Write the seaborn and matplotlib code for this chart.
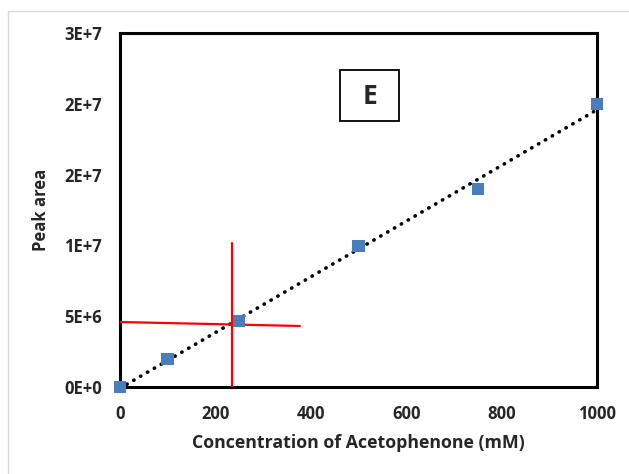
import numpy as np
import pandas as pd
import matplotlib.pyplot as plt
import matplotlib.patches as patches
import seaborn as sns

# Data
conc = [0, 100, 250, 500, 750, 1000]
peak_area = [0.0, 1.98e6, 4.66e6, 9.96e6, 1.40e7, 2.00e7]

y_ticks = [0, 5e6, 1e7, 1.5e7, 2e7, 2.5e7]
y_tick_labels = ['0E+0', '5E+6', '1E+7', '2E+7', '2E+7', '3E+7']
x_ticks = [0, 200, 400, 600, 800, 1000]

# red guide lines (read-off of the unknown sample)
vline_x = [235, 235]
vline_y = [0, 1.02e7]
hline_x = [0, 377]
hline_y = [4.59e6, 4.31e6]

panel_label = 'E'

df = pd.DataFrame({'conc': conc, 'area': peak_area})

sns.set_style("white")
plt.rcParams['font.family'] = ['Open Sans', 'DejaVu Sans']

fig = plt.figure(figsize=(6.29, 4.74), dpi=100)
ax = fig.add_axes([120 / 629, 1 - 387 / 474, 477 / 629, 354 / 474])

# light grey outer frame (only top and left visible)
fig.add_artist(plt.Line2D([8 / 629, 1], [1 - 11 / 474, 1 - 11 / 474],
                          transform=fig.transFigure, color='#d9d9d9', lw=1))
fig.add_artist(plt.Line2D([8 / 629, 8 / 629], [0, 1 - 11 / 474],
                          transform=fig.transFigure, color='#d9d9d9', lw=1))

# trendline
sns.regplot(data=df, x='conc', y='area', ax=ax, scatter=False, ci=None,
            color='black',
            line_kws={'linestyle': (0, (0.1, 2.1)), 'linewidth': 2.6,
                      'dash_capstyle': 'round', 'zorder': 2})

# guide lines
ax.plot(vline_x, vline_y, color='#ff0000', lw=1.6, zorder=3)
ax.plot(hline_x, hline_y, color='#ff0000', lw=1.6, zorder=3)

# data points
sns.scatterplot(data=df, x='conc', y='area', ax=ax, marker='s', s=80,
                color='#4a7ebb', edgecolor='none', zorder=4, clip_on=False)

ax.set_xlim(0, 1000)
ax.set_ylim(0, 2.5e7)
ax.set_xticks(x_ticks)
ax.set_yticks(y_ticks)
ax.set_yticklabels(y_tick_labels)
ax.tick_params(length=0, pad=13, labelsize=12)
for lab in ax.get_xticklabels() + ax.get_yticklabels():
    lab.set_fontweight('bold')

ax.set_xlabel('Concentration of Acetophenone (mM)', fontsize=12.8,
              fontweight='bold', labelpad=8)
ax.set_ylabel('Peak area', fontsize=12, fontweight='bold', labelpad=10)

for sp in ax.spines.values():
    sp.set_visible(True)
    sp.set_color('black')
    sp.set_linewidth(2.2)

# panel label box
ax.add_patch(patches.Rectangle((220 / 477, 266 / 354), 59 / 477, 51 / 354,
                               transform=ax.transAxes, fill=False,
                               edgecolor='black', lw=1.3, zorder=5))
ax.text(249.5 / 477, 290.5 / 354, panel_label, transform=ax.transAxes,
        ha='center', va='center', fontsize=19, fontweight='bold', zorder=6)

fig.savefig('out.png', dpi=100)
